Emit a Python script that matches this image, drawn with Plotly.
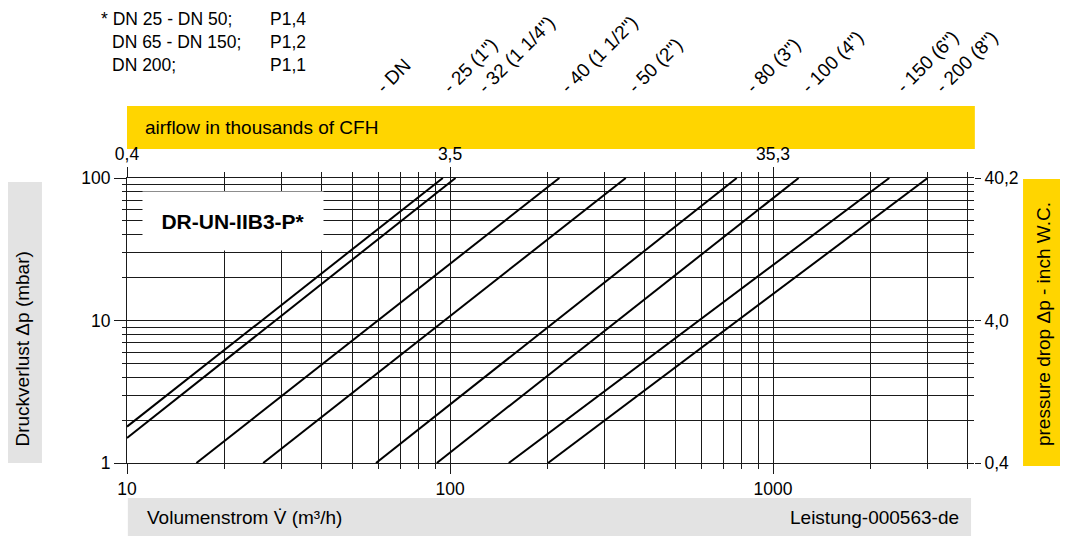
import math
import plotly.graph_objects as go

# pressure drop lines (flow in m3/h, dp in mbar)
dn_labels = ['- 25 (1")', '- 32 (1 1/4")', '- 40 (1 1/2")', '- 50 (2")',
             '- 80 (3")', '- 100 (4")', '- 150 (6")', '- 200 (8")']
q_low = [10, 10, 16.4, 26.4, 59, 91, 152, 201]
dp_low = [1.8, 1.5, 1, 1, 1, 1, 1, 1]
q_high = [95, 104, 218, 350, 772, 1200, 2290, 3010]
dp_high = [100, 100, 100, 100, 100, 100, 100, 100]

# axis ticks
x_major = [10, 100, 1000]
x_major_text = ['10', '100', '1000']
x_top_text = ['0,4', '3,5', '35,3']
x_minor = [20, 30, 40, 50, 60, 70, 80, 90,
           200, 300, 400, 500, 600, 700, 800, 900,
           2000, 3000, 4000]
y_major = [1, 10, 100]
y_major_text = ['1', '10', '100']
y_right_text = ['0,4', '4,0', '40,2']
y_minor = [2, 3, 4, 5, 6, 7, 8, 9, 20, 30, 40, 50, 60, 70, 80, 90]

notes_left = ['* DN 25 - DN 50;', 'DN 65 - DN 150;', 'DN 200;']
notes_right = ['P1,4', 'P1,2', 'P1,1']

FONT = 'Liberation Sans, Arial, sans-serif'
YELLOW = '#FFD500'
GREY = '#E3E3E3'
GRID = '#1a1a1a'

fig = go.Figure()
for i in range(len(dn_labels)):
    fig.add_trace(go.Scatter(x=[q_low[i], q_high[i]], y=[dp_low[i], dp_high[i]],
                             mode='lines', line=dict(color='black', width=2),
                             name=dn_labels[i], hoverinfo='skip'))
# carrier trace for the secondary (top / right) axes
fig.add_trace(go.Scatter(x=[10], y=[1], xaxis='x2', yaxis='y2', mode='markers',
                         marker=dict(opacity=0), hoverinfo='skip'))

# the page body adds 8px, so the figure is 8px smaller than the window
fig.update_layout(
    width=1060, height=543,
    margin=dict(l=119, r=94, t=170, b=88),
    paper_bgcolor='white', plot_bgcolor='white',
    showlegend=False,
    font=dict(family=FONT, size=17, color='black'),
    xaxis=dict(type='log', range=[1, 3.622], tickmode='array',
               tickvals=x_major, ticktext=x_major_text,
               ticks='outside', ticklen=10, tickcolor=GRID,
               showgrid=True, gridcolor=GRID, gridwidth=1,
               showline=True, linecolor=GRID, zeroline=False,
               tickfont=dict(size=17.5), automargin=False,
               minor=dict(tickmode='array', tickvals=x_minor, ticks='outside',
                          ticklen=5, tickcolor=GRID, showgrid=True,
                          gridcolor=GRID, gridwidth=1)),
    xaxis2=dict(type='log', range=[1, 3.622], overlaying='x', side='top',
                anchor='y', tickmode='array', tickvals=x_major,
                ticktext=x_top_text, ticks='outside', ticklen=10,
                tickcolor=GRID, showgrid=False, showline=True,
                linecolor=GRID, zeroline=False, tickfont=dict(size=17.5),
                automargin=False,
                minor=dict(tickmode='array', tickvals=x_minor, ticks='outside',
                           ticklen=5, tickcolor=GRID, showgrid=False)),
    yaxis=dict(type='log', range=[0, 2], tickmode='array',
               tickvals=y_major, ticktext=y_major_text,
               ticks='outside', ticklen=12, tickcolor=GRID,
               showgrid=True, gridcolor=GRID, gridwidth=1,
               showline=True, linecolor=GRID, zeroline=False,
               tickfont=dict(size=17.5), automargin=False,
               minor=dict(tickmode='array', tickvals=y_minor, ticks='outside',
                          ticklen=4, tickcolor=GRID, showgrid=True,
                          gridcolor=GRID, gridwidth=1)),
    yaxis2=dict(type='log', range=[0, 2], overlaying='y', side='right',
                anchor='x', tickmode='array', tickvals=y_major,
                ticktext=y_right_text, ticks='outside', ticklen=6,
                tickcolor=GRID, showgrid=False, showline=False,
                zeroline=False, tickfont=dict(size=17.5), automargin=False),
)

# coloured label bands around the plot
bands = [
    (0, 1.001, 1.1018, 1.2526, YELLOW),        # top: airflow
    (-0.1476, -0.1004, 0, 0.986, GREY),        # left: Druckverlust
    (1.0579, 1.111, -0.0105, 0.9965, YELLOW),  # right: inch W.C.
    (0.001, 0.9965, -0.256, -0.1228, GREY),    # bottom: Volumenstrom
]
for x0, x1, y0, y1, c in bands:
    fig.add_shape(type='rect', xref='paper', yref='paper', x0=x0, x1=x1,
                  y0=y0, y1=y1, fillcolor=c, line=dict(width=0), layer='below')

ann = []
ann.append(dict(text='airflow in thousands of CFH', x=0.0189, y=1.177,
                xanchor='left', yanchor='middle', font=dict(size=19)))
ann.append(dict(text='Volumenstrom V\u0307 (m³/h)', x=0.0212, y=-0.1895,
                xanchor='left', yanchor='middle', font=dict(size=19)))
ann.append(dict(text='Leistung-000563-de', x=0.9847, y=-0.1895,
                xanchor='right', yanchor='middle', font=dict(size=19)))
ann.append(dict(text='Druckverlust \u0394p (mbar)', x=-0.1228, y=0.0526,
                textangle=-90, xanchor='center', yanchor='bottom',
                font=dict(size=19)))
ann.append(dict(text='pressure drop \u0394p - inch W.C.', x=1.0815, y=0.0526,
                textangle=-90, xanchor='center', yanchor='bottom',
                font=dict(size=19)))
ann.append(dict(text='<b>DR-UN-IIB3-P*</b>', x=0.1251, y=0.849,
                xanchor='center', yanchor='middle', width=180, height=58,
                bgcolor='white', borderpad=0, font=dict(size=21)))

# notes top left
note_y = [1.559, 1.477, 1.395]
for i in range(3):
    ann.append(dict(text=notes_left[i], x=-0.0319 if i == 0 else -0.0189,
                    y=note_y[i], xanchor='left', yanchor='middle',
                    borderpad=0, font=dict(size=17.5)))
    ann.append(dict(text=notes_right[i], x=0.1672, y=note_y[i],
                    xanchor='left', yanchor='middle', borderpad=0,
                    font=dict(size=17.5)))

# rotated DN labels above the line ends
ann.append(dict(text='- DN', x=0.2997, xshift=-11, y=1.275, xanchor='left',
                yanchor='bottom', textangle=-45, font=dict(size=19)))
label_nudge = [4, 26, 5, 6, 13, 7, 11, 12]
for i in range(len(dn_labels)):
    ann.append(dict(text=dn_labels[i], xref='x', x=math.log10(q_high[i]),
                    xshift=label_nudge[i] - 11, y=1.275, xanchor='left',
                    yanchor='bottom', textangle=-45, font=dict(size=19)))

for a in ann:
    a.setdefault('xref', 'paper')
    a.setdefault('yref', 'paper')
    a['showarrow'] = False
fig.update_layout(annotations=ann)

fig.write_html("out.html")
